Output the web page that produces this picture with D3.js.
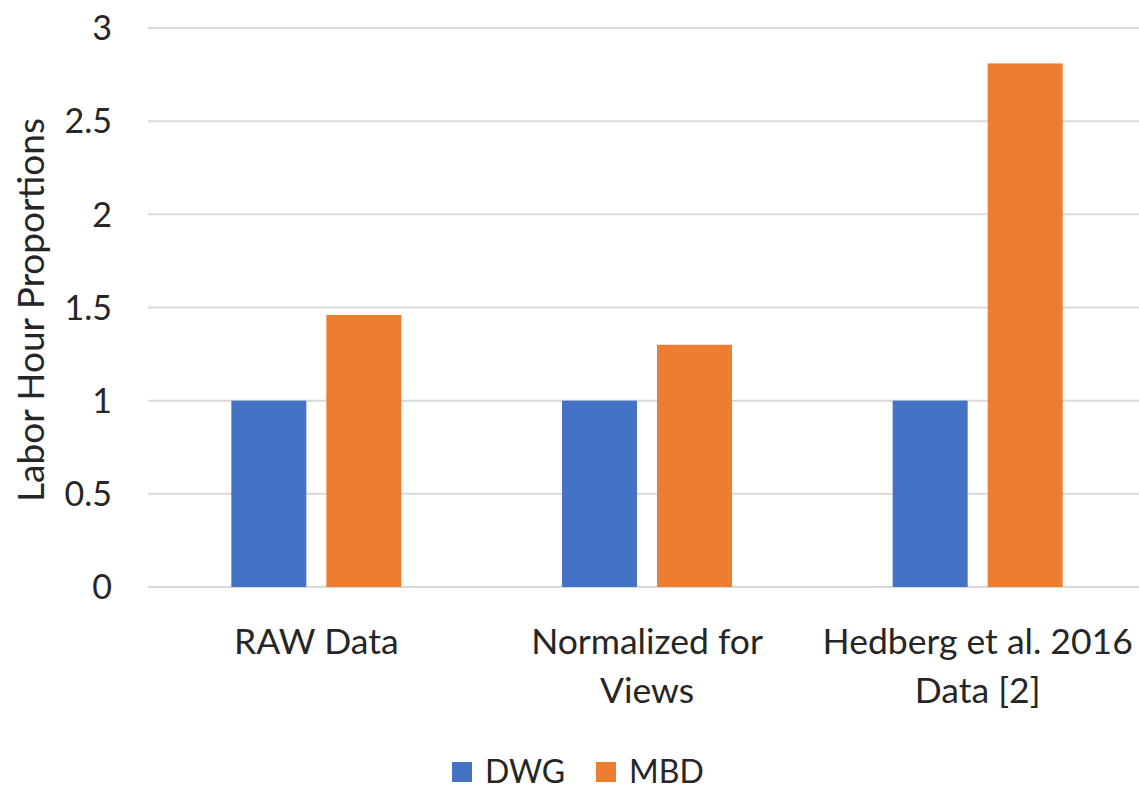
<!DOCTYPE html>
<html><head><meta charset="utf-8">
<script src="https://cdn.jsdelivr.net/npm/d3@7"></script>
<style>body{margin:0;background:#fff}svg{display:block}text{font-family:Lato,"Open Sans",sans-serif;fill:#262626}</style>
</head><body><svg id="c" width="1139" height="789"></svg>
<script>
const categories = [["RAW Data"], ["Normalized for", "Views"], ["Hedberg et al. 2016", "Data [2]"]];
const seriesNames = ["DWG", "MBD"];
const dwgValues = [1, 1, 1];
const mbdValues = [1.46, 1.30, 2.81];
const yTicks = [0, 0.5, 1, 1.5, 2, 2.5, 3];
const colors = ["#4472C4", "#ED7D31"];

const svg = d3.select("#c");
const pLeft = 151, pRight = 1143, pTop = 28, pBottom = 587;
const x = d3.scaleBand().domain(d3.range(categories.length)).range([pLeft, pRight]);
const y = d3.scaleLinear().domain([0, 3]).range([pBottom, pTop]);
const barW = 75, gap = 20;

svg.append("g").selectAll("line").data(yTicks).join("line")
  .attr("x1", 148).attr("x2", 1139)
  .attr("y1", d => y(d)).attr("y2", d => y(d))
  .attr("stroke", "#d9d9d9").attr("stroke-width", 2);

svg.append("g").selectAll("text").data(yTicks).join("text")
  .attr("x", 112).attr("y", d => y(d)).attr("dy", "0.36em")
  .attr("text-anchor", "end").attr("font-size", 34)
  .text(d => d);

const series = [dwgValues, mbdValues];
series.forEach((vals, si) => {
  svg.append("g").selectAll("rect").data(vals).join("rect")
    .attr("x", (d, i) => x(i) + x.bandwidth() / 2 + (si === 0 ? -(barW + gap / 2) : gap / 2))
    .attr("width", barW)
    .attr("y", d => y(d)).attr("height", d => y(0) - y(d))
    .attr("fill", colors[si]);
});

const cat = svg.append("g").selectAll("text").data(categories).join("text")
  .attr("text-anchor", "middle").attr("font-size", 35.5)
  .attr("transform", (d, i) => `translate(${x(i) + x.bandwidth() / 2},0)`);
cat.selectAll("tspan").data(d => d).join("tspan")
  .attr("x", 0).attr("y", (d, j) => 654 + j * 49).text(d => d);

svg.append("text").attr("transform", "translate(44,310) rotate(-90)")
  .attr("text-anchor", "middle").attr("font-size", 37).text("Labor Hour Proportions");

const legX = [452, 596];
seriesNames.forEach((n, i) => {
  svg.append("rect").attr("x", legX[i]).attr("y", 762).attr("width", 20).attr("height", 20).attr("fill", colors[i]);
  svg.append("text").attr("x", legX[i] + 33).attr("y", 771).attr("dy", "0.36em").attr("font-size", 32).text(n);
});
</script></body></html>
